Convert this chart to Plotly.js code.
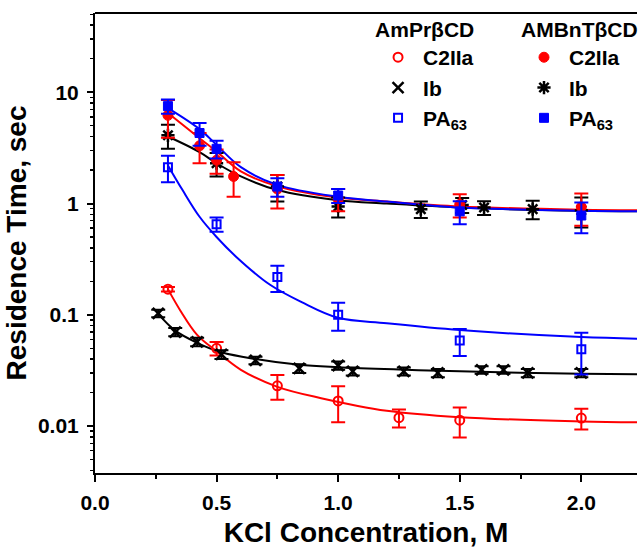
<!DOCTYPE html>
<html>
<head>
<meta charset="utf-8">
<script src="https://cdn.plot.ly/plotly-3.0.1.min.js"></script>
<style>
html,body{margin:0;padding:0;overflow:hidden;background:#fff;}
#chart{width:640px;height:548px;}
</style>
</head>
<body>
<div id="chart"></div>
<script>
// ---- AmPrβCD ----
var amC2x = [0.30, 0.50, 0.75, 1.00, 1.25, 1.50, 2.00];
var amC2y = [0.170, 0.050, 0.023, 0.0168, 0.0119, 0.0113, 0.0118];
var amC2e = [0.008, 0.007, 0.0058, 0.006, 0.0022, 0.0034, 0.0025];

var amIbx = [0.26, 0.33, 0.42, 0.52, 0.66, 0.84, 1.00, 1.06, 1.27, 1.41, 1.59, 1.68, 1.78, 2.00];
var amIby = [0.103, 0.070, 0.057, 0.044, 0.039, 0.033, 0.035, 0.031, 0.031, 0.030, 0.032, 0.032, 0.030, 0.030];
var amIbe = [0.008, 0.006, 0.005, 0.004, 0.003, 0.003, 0.003, 0.0025, 0.0025, 0.0025, 0.0025, 0.0025, 0.0025, 0.0025];

var amPAx = [0.30, 0.50, 0.75, 1.00, 1.50, 2.00];
var amPAy = [2.12, 0.652, 0.218, 0.100, 0.0586, 0.049];
var amPAe = [0.57, 0.095, 0.058, 0.028, 0.016, 0.020];

// ---- AMBnTβCD ----
var bnC2x = [0.30, 0.43, 0.50, 0.57, 0.75, 1.00, 1.50, 2.00];
var bnC2y = [6.2, 3.3, 2.45, 1.75, 1.35, 1.10, 0.98, 0.93];
var bnC2e = [2.3, 1.0, 0.6, 0.6, 0.45, 0.25, 0.23, 0.30];

var bnIbx = [0.30, 0.50, 0.75, 1.00, 1.34, 1.51, 1.60, 1.80, 2.00];
var bnIby = [4.1, 2.3, 1.42, 0.94, 0.89, 0.97, 0.92, 0.89, 0.87];
var bnIbe = [1.0, 0.55, 0.38, 0.19, 0.15, 0.15, 0.13, 0.17, 0.26];

var bnPAx = [0.30, 0.43, 0.50, 0.75, 1.00, 1.50, 2.00];
var bnPAy = [7.5, 4.3, 3.1, 1.42, 1.18, 0.85, 0.78];
var bnPAe = [1.1, 1.0, 0.56, 0.27, 0.17, 0.20, 0.24];

// ---- fitted curves ----
var fitAmC2x = [0.30, 0.35, 0.42, 0.50, 0.60, 0.75, 0.93, 1.20, 1.50, 2.00, 2.23];
var fitAmC2y = [0.170, 0.110, 0.066, 0.047, 0.032, 0.0225, 0.0178, 0.0137, 0.0120, 0.0110, 0.0108];

var fitAmIbx = [0.26, 0.33, 0.42, 0.52, 0.66, 0.84, 1.00, 1.25, 1.50, 2.00, 2.23];
var fitAmIby = [0.102, 0.072, 0.056, 0.046, 0.040, 0.0355, 0.0338, 0.0322, 0.0310, 0.0295, 0.0292];

var fitAmPAx = [0.30, 0.36, 0.43, 0.50, 0.58, 0.72, 0.85, 1.00, 1.20, 1.50, 2.00, 2.23];
var fitAmPAy = [2.2, 1.32, 0.76, 0.50, 0.333, 0.186, 0.130, 0.094, 0.084, 0.073, 0.063, 0.061];

var fitBnx   = [0.30, 0.43, 0.50, 0.60, 0.75, 1.00, 1.20, 1.50, 2.00, 2.23];
var fitBnC2y = [6.5, 3.86, 2.93, 1.94, 1.43, 1.13, 1.04, 0.94, 0.88, 0.87];
var fitBnPAy = [7.2, 4.66, 3.36, 2.12, 1.47, 1.15, 1.04, 0.92, 0.86, 0.85];
var fitBnIby = [4.0, 2.9, 2.3, 1.75, 1.32, 1.07, 1.00, 0.92, 0.86, 0.85];

// ---- tick labels ----
var yTickVals = [0.01, 0.1, 1, 10];
var yTickText = ['0.01', '0.1', '1', '10'];
var legendHeaders = ['AmPrβCD', 'AMBnTβCD'];
var seriesNames = ['C2IIa', 'Ib', 'PA<sub>63</sub>'];

var RED = '#ff0000', BLUE = '#0000ff', BLACK = '#000000';
var FONT = 'Liberation Sans, Arial, sans-serif';

function fit(x, y, c) {
  return {x: x, y: y, mode: 'lines', type: 'scatter', showlegend: false, hoverinfo: 'skip',
          line: {color: c, width: 2, shape: 'spline', smoothing: 1}};
}
function pts(x, y, e, c, sym, size, lw, name, leg) {
  return {x: x, y: y, mode: 'markers', type: 'scatter', name: name, legend: leg,
          error_y: {type: 'data', array: e, visible: true, color: c, thickness: 2, width: 7},
          marker: {symbol: sym, size: size, color: c, line: {color: c, width: lw}}};
}

var traces = [
  fit(fitAmPAx, fitAmPAy, BLUE),
  fit(fitAmIbx, fitAmIby, BLACK),
  fit(fitAmC2x, fitAmC2y, RED),
  fit(fitBnx, fitBnIby, BLACK),
  fit(fitBnx, fitBnC2y, RED),
  fit(fitBnx, fitBnPAy, BLUE),
  pts(amC2x, amC2y, amC2e, RED, 'circle-open', 9, 2, seriesNames[0], 'legend'),
  pts(amIbx, amIby, amIbe, BLACK, 'x-thin-open', 11, 2.5, seriesNames[1], 'legend'),
  pts(amPAx, amPAy, amPAe, BLUE, 'square-open', 8, 2, seriesNames[2], 'legend'),
  pts(bnIbx, bnIby, bnIbe, BLACK, 'asterisk-open', 11, 2.5, seriesNames[1], 'legend2'),
  pts(bnC2x, bnC2y, bnC2e, RED, 'circle', 10, 1, seriesNames[0], 'legend2'),
  pts(bnPAx, bnPAy, bnPAe, BLUE, 'square', 9, 1, seriesNames[2], 'legend2')
];
// legend order: C2IIa, Ib, PA63 in each column
traces[9].legendrank = 2; traces[10].legendrank = 1; traces[11].legendrank = 3;
traces[6].legendrank = 1; traces[7].legendrank = 2; traces[8].legendrank = 3;

var minorY = [];
for (var d = -3; d <= 1; d++) {
  for (var m = 2; m <= 9; m++) minorY.push(m * Math.pow(10, d));
}

var legFont = {family: FONT, size: 21, color: '#000', weight: 700};
function leg(x, title) {
  return {x: x, y: 1.007, xanchor: 'left', yanchor: 'top', bgcolor: 'rgba(0,0,0,0)',
          borderwidth: 0, font: legFont, itemwidth: 40, traceorder: 'normal',
          title: {text: title, font: legFont, side: 'top'}};
}

var layout = {
  width: 640, height: 548,
  margin: {l: 95, r: 0, t: 13, b: 75},
  paper_bgcolor: '#fff', plot_bgcolor: '#fff',
  font: {family: FONT, color: '#000'},
  xaxis: {
    range: [0, 2.229], tickmode: 'linear', tick0: 0, dtick: 0.5, tickformat: '.1f',
    ticks: 'outside', ticklen: 7, tickwidth: 2, tickcolor: '#000',
    minor: {dtick: 0.25, tick0: 0, ticks: 'outside', ticklen: 4, tickwidth: 2, tickcolor: '#000'},
    showline: true, linewidth: 2, linecolor: '#000', mirror: false,
    showgrid: false, zeroline: false, ticklabelstandoff: 3,
    tickfont: {family: FONT, size: 21, weight: 700},
    title: {text: 'KCl Concentration, M', font: {family: FONT, size: 28, weight: 700}, standoff: 10}
  },
  yaxis: {
    type: 'log', range: [-2.422, 1.712],
    tickmode: 'array', tickvals: yTickVals, ticktext: yTickText,
    ticks: 'outside', ticklen: 6, tickwidth: 2, tickcolor: '#000',
    minor: {tickmode: 'array', tickvals: minorY, ticks: 'outside', ticklen: 3, tickwidth: 1.5, tickcolor: '#000'},
    showline: true, linewidth: 2, linecolor: '#000', mirror: false,
    showgrid: false, zeroline: false, ticklabelstandoff: 4,
    tickfont: {family: FONT, size: 21, weight: 700},
    title: {text: 'Residence Time, sec', font: {family: FONT, size: 28, weight: 700}, standoff: 3}
  },
  legend: leg(0.513, legendHeaders[0]),
  legend2: leg(0.783, legendHeaders[1]),
  shapes: [{type: 'line', xref: 'paper', yref: 'paper', x0: 0, x1: 1, y0: 1, y1: 1,
            line: {color: '#000', width: 2}}]
};

Plotly.newPlot('chart', traces, layout, {staticPlot: true, displayModeBar: false});
</script>
</body>
</html>
